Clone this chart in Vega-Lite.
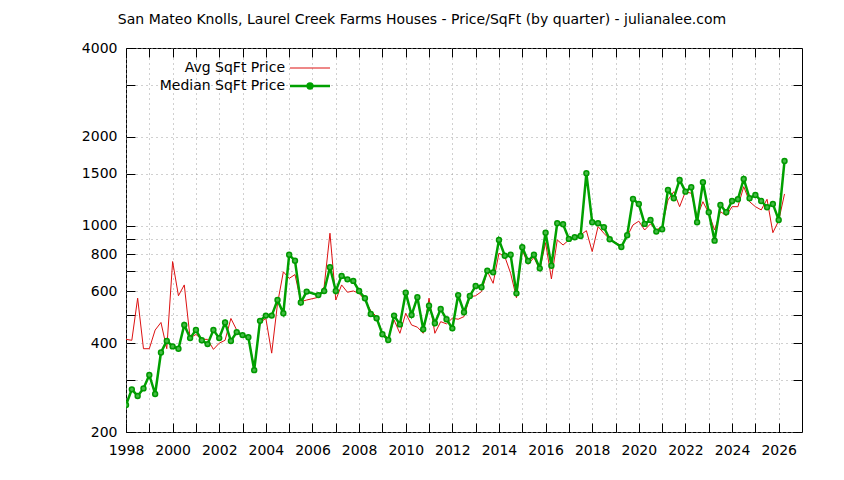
{
 "$schema": "https://vega.github.io/schema/vega-lite/v6.json",
 "width": 676,
 "height": 384,
 "autosize": {"type": "none"},
 "padding": {"left": 126, "top": 48, "right": 42, "bottom": 48},
 "background": "white",
 "config": {
  "font": "DejaVu Sans",
  "view": {"stroke": "black", "strokeWidth": 1},
  "axis": {"labelFont": "DejaVu Sans", "labelFontSize": 14, "labelColor": "black", "domain": false, "gridColor": "#a0a0a0", "gridDash": [1, 4], "gridOpacity": 1, "gridWidth": 1, "tickColor": "black", "labelFlush": false, "labelOverlap": false, "title": null}
 },
 "title": {"text": "San Mateo Knolls, Laurel Creek Farms Houses - Price/SqFt (by quarter) - julianalee.com", "font": "DejaVu Sans", "fontSize": 14, "fontWeight": "normal", "color": "black", "anchor": "middle", "dx": -42, "offset": 14},
 "data": {"values": [
  {"t": 1998.00, "avg": 412, "med": 247},
  {"t": 1998.25, "avg": 409, "med": 279},
  {"t": 1998.50, "avg": 568, "med": 265},
  {"t": 1998.75, "avg": 383, "med": 281},
  {"t": 1999.00, "avg": 383, "med": 312},
  {"t": 1999.25, "avg": 443, "med": 269},
  {"t": 1999.50, "avg": 470, "med": 372},
  {"t": 1999.75, "avg": 383, "med": 407},
  {"t": 2000.00, "avg": 756, "med": 390},
  {"t": 2000.25, "avg": 579, "med": 383},
  {"t": 2000.50, "avg": 630, "med": 461},
  {"t": 2000.75, "avg": 416, "med": 416},
  {"t": 2001.00, "avg": 428, "med": 443},
  {"t": 2001.25, "avg": 412, "med": 409},
  {"t": 2001.50, "avg": 412, "med": 397},
  {"t": 2001.75, "avg": 381, "med": 443},
  {"t": 2002.00, "avg": 400, "med": 416},
  {"t": 2002.25, "avg": 409, "med": 470},
  {"t": 2002.50, "avg": 485, "med": 407},
  {"t": 2002.75, "avg": 443, "med": 436},
  {"t": 2003.00, "avg": 420, "med": 426},
  {"t": 2003.25, "avg": 419, "med": 419},
  {"t": 2003.50, "avg": 330, "med": 324},
  {"t": 2003.75, "avg": 470, "med": 476},
  {"t": 2004.00, "avg": 485, "med": 496},
  {"t": 2004.25, "avg": 370, "med": 496},
  {"t": 2004.50, "avg": 545, "med": 560},
  {"t": 2004.75, "avg": 698, "med": 505},
  {"t": 2005.00, "avg": 663, "med": 797},
  {"t": 2005.25, "avg": 683, "med": 761},
  {"t": 2005.50, "avg": 553, "med": 549},
  {"t": 2005.75, "avg": 560, "med": 598},
  {"t": 2006.25, "avg": 572, "med": 582},
  {"t": 2006.50, "avg": 621, "med": 601},
  {"t": 2006.75, "avg": 943, "med": 723},
  {"t": 2007.00, "avg": 560, "med": 601},
  {"t": 2007.25, "avg": 630, "med": 676},
  {"t": 2007.50, "avg": 595, "med": 658},
  {"t": 2007.75, "avg": 601, "med": 650},
  {"t": 2008.00, "avg": 590, "med": 601},
  {"t": 2008.25, "avg": 560, "med": 568},
  {"t": 2008.50, "avg": 515, "med": 502},
  {"t": 2008.75, "avg": 492, "med": 486},
  {"t": 2009.00, "avg": 432, "med": 429},
  {"t": 2009.25, "avg": 416, "med": 410},
  {"t": 2009.50, "avg": 479, "med": 496},
  {"t": 2009.75, "avg": 432, "med": 463},
  {"t": 2010.00, "avg": 505, "med": 593},
  {"t": 2010.25, "avg": 461, "med": 498},
  {"t": 2010.50, "avg": 453, "med": 572},
  {"t": 2010.75, "avg": 432, "med": 446},
  {"t": 2011.00, "avg": 568, "med": 536},
  {"t": 2011.25, "avg": 432, "med": 467},
  {"t": 2011.50, "avg": 473, "med": 522},
  {"t": 2011.75, "avg": 465, "med": 482},
  {"t": 2012.00, "avg": 486, "med": 449},
  {"t": 2012.25, "avg": 482, "med": 582},
  {"t": 2012.50, "avg": 492, "med": 509},
  {"t": 2012.75, "avg": 574, "med": 578},
  {"t": 2013.00, "avg": 579, "med": 625},
  {"t": 2013.25, "avg": 598, "med": 619},
  {"t": 2013.50, "avg": 700, "med": 704},
  {"t": 2013.75, "avg": 638, "med": 695},
  {"t": 2014.00, "avg": 807, "med": 895},
  {"t": 2014.25, "avg": 786, "med": 791},
  {"t": 2014.50, "avg": 690, "med": 797},
  {"t": 2014.75, "avg": 570, "med": 590},
  {"t": 2015.00, "avg": 827, "med": 845},
  {"t": 2015.25, "avg": 740, "med": 759},
  {"t": 2015.50, "avg": 780, "med": 797},
  {"t": 2015.75, "avg": 710, "med": 717},
  {"t": 2016.00, "avg": 876, "med": 947},
  {"t": 2016.25, "avg": 660, "med": 732},
  {"t": 2016.50, "avg": 895, "med": 1019},
  {"t": 2016.75, "avg": 860, "med": 1011},
  {"t": 2017.00, "avg": 895, "med": 902},
  {"t": 2017.25, "avg": 918, "med": 914},
  {"t": 2017.50, "avg": 930, "med": 923},
  {"t": 2017.75, "avg": 962, "med": 1505},
  {"t": 2018.00, "avg": 817, "med": 1027},
  {"t": 2018.25, "avg": 993, "med": 1019},
  {"t": 2018.50, "avg": 943, "med": 988},
  {"t": 2018.75, "avg": 900, "med": 900},
  {"t": 2019.25, "avg": 855, "med": 847},
  {"t": 2019.50, "avg": 920, "med": 928},
  {"t": 2019.75, "avg": 1006, "med": 1232},
  {"t": 2020.00, "avg": 1036, "med": 1184},
  {"t": 2020.25, "avg": 967, "med": 1014},
  {"t": 2020.50, "avg": 1014, "med": 1046},
  {"t": 2020.75, "avg": 967, "med": 955},
  {"t": 2021.00, "avg": 993, "med": 973},
  {"t": 2021.25, "avg": 1222, "med": 1322},
  {"t": 2021.50, "avg": 1304, "med": 1239},
  {"t": 2021.75, "avg": 1160, "med": 1429},
  {"t": 2022.00, "avg": 1304, "med": 1304},
  {"t": 2022.25, "avg": 1288, "med": 1350},
  {"t": 2022.50, "avg": 1073, "med": 1027},
  {"t": 2022.75, "avg": 1206, "med": 1404},
  {"t": 2023.00, "avg": 1102, "med": 1111},
  {"t": 2023.25, "avg": 967, "med": 890},
  {"t": 2023.50, "avg": 1116, "med": 1175},
  {"t": 2023.75, "avg": 1082, "med": 1111},
  {"t": 2024.00, "avg": 1160, "med": 1213},
  {"t": 2024.25, "avg": 1160, "med": 1229},
  {"t": 2024.50, "avg": 1356, "med": 1440},
  {"t": 2024.75, "avg": 1206, "med": 1239},
  {"t": 2025.00, "avg": 1160, "med": 1271},
  {"t": 2025.25, "avg": 1131, "med": 1213},
  {"t": 2025.50, "avg": 1229, "med": 1155},
  {"t": 2025.75, "avg": 947, "med": 1185},
  {"t": 2026.00, "avg": 1040, "med": 1046},
  {"t": 2026.25, "avg": 1281, "med": 1657}
 ]},
 "transform": [{"fold": ["avg", "med"], "as": ["s", "v"]}],
 "resolve": {"axis": {"x": "independent", "y": "independent"}},
 "layer": [
  {
   "transform": [{"filter": "datum.s == 'avg'"}],
   "mark": {"type": "line", "strokeWidth": 1, "clip": true},
   "encoding": {
    "x": {"field": "t", "type": "quantitative", "scale": {"domain": [1998, 2027], "nice": false, "zero": false},
     "axis": {"orient": "bottom", "values": [1998,1999,2000,2001,2002,2003,2004,2005,2006,2007,2008,2009,2010,2011,2012,2013,2014,2015,2016,2017,2018,2019,2020,2021,2022,2023,2024,2025,2026], "format": "d", "labelExpr": "datum.value % 2 == 0 ? datum.label : ''", "grid": true, "tickSize": -9, "labelPadding": 20,
      "encode": {"ticks": {"update": {"y2": {"signal": "datum.value % 2 == 0 ? -9 : -4.5"}}}}}},
    "y": {"field": "v", "type": "quantitative", "scale": {"type": "log", "domain": [200, 4000], "nice": false},
     "axis": {"orient": "left", "values": [200,300,400,500,600,700,800,900,1000,1500,2000,3000,4000], "format": "d", "labelExpr": "indexof([200,400,600,800,1000,1500,2000,4000], datum.value) >= 0 ? datum.label : ''", "grid": true, "tickSize": -9, "labelPadding": 18}},
    "color": {"field": "s", "type": "nominal", "scale": {"domain": ["avg", "med"], "range": ["#dd1111", "#00a000"]},
     "legend": {"orient": "none", "legendX": 177, "legendY": 13, "title": null, "padding": 0,
      "labelExpr": "datum.value == 'avg' ? 'Avg SqFt Price' : 'Median SqFt Price'",
      "labelFont": "DejaVu Sans", "labelFontSize": 14, "labelColor": "black", "labelAlign": "right", "labelOffset": -32,
      "symbolSize": 1600, "symbolType": "stroke", "rowPadding": 3,
      "encode": {"symbols": {"update": {
        "shape": {"signal": "datum.value == 'avg' ? 'stroke' : 'M-1,0H1M0.12,0A0.12,0.12,0,1,1,-0.12,0A0.12,0.12,0,1,1,0.12,0'"},
        "strokeWidth": {"signal": "datum.value == 'avg' ? 1 : 2.5"},
        "stroke": {"signal": "datum.value == 'avg' ? '#dd1111' : '#00a000'"},
        "fill": {"signal": "datum.value == 'avg' ? 'transparent' : '#44bb44'"},
        "opacity": {"value": 1}}}}}}
   }
  },
  {
   "transform": [{"filter": "datum.s == 'med'"}],
   "mark": {"type": "line", "strokeWidth": 2.5, "clip": true},
   "encoding": {
    "x": {"field": "t", "type": "quantitative",
     "axis": {"orient": "top", "values": [1998,1999,2000,2001,2002,2003,2004,2005,2006,2007,2008,2009,2010,2011,2012,2013,2014,2015,2016,2017,2018,2019,2020,2021,2022,2023,2024,2025,2026], "labels": false, "grid": false, "tickSize": -9,
      "encode": {"ticks": {"update": {"y2": {"signal": "datum.value % 2 == 0 ? 9 : 4.5"}}}}}},
    "y": {"field": "v", "type": "quantitative",
     "axis": {"orient": "right", "values": [200,300,400,500,600,700,800,900,1000,1500,2000,3000,4000], "labels": false, "grid": false, "tickSize": -9}},
    "color": {"field": "s", "type": "nominal"}
   }
  },
  {
   "transform": [{"filter": "datum.s == 'med'"}],
   "mark": {"type": "point", "filled": true, "size": 24, "stroke": "#009900", "strokeWidth": 1.5, "fill": "#44bb44", "opacity": 1, "clip": true},
   "encoding": {
    "x": {"field": "t", "type": "quantitative", "axis": null},
    "y": {"field": "v", "type": "quantitative", "axis": null},
    "color": {"field": "s", "type": "nominal"}
   }
  }
 ]
}
